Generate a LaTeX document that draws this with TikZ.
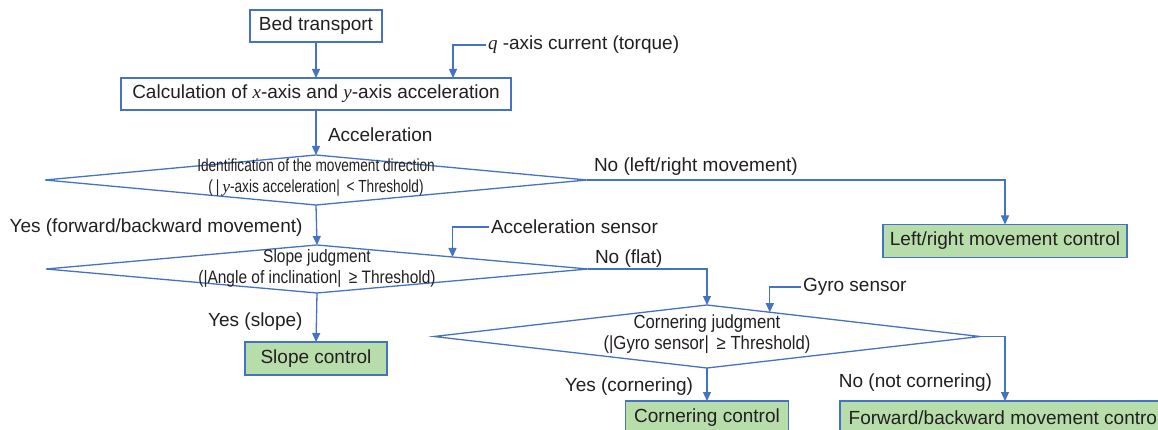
\documentclass[tikz,border=0pt]{standalone}
\usepackage{fontspec}
\setmainfont{Liberation Sans}
\newfontfamily\tnr{Liberation Serif}
\newfontfamily\dA[FakeStretch=0.78]{Liberation Sans}
\newfontfamily\dB[FakeStretch=0.86]{Liberation Sans}
\newfontfamily\dC[FakeStretch=0.88]{Liberation Sans}
\usetikzlibrary{shapes.geometric,arrows.meta,calc}
\definecolor{lnblue}{RGB}{68,114,196}
\definecolor{boxgreen}{RGB}{183,221,170}
\definecolor{txt}{RGB}{35,31,32}
\newcommand{\mi}[1]{{\tnr\itshape #1}}
\begin{document}
\begin{tikzpicture}[x=1pt,y=-1pt,
  every node/.style={text=txt, font=\fontsize{19}{21}\selectfont, outer sep=0pt},
  conn/.style={draw=lnblue, line width=1.3pt},
  arr/.style={conn, -{Triangle[length=9pt,width=8pt]}},
  wbox/.style={draw=lnblue, line width=1.3pt, fill=white, minimum height=32pt, inner sep=0pt},
  gbox/.style={draw=lnblue, line width=1.3pt, fill=boxgreen, minimum height=33pt, inner sep=0pt},
  dec/.style={diamond, draw=lnblue, line width=1.3pt, inner sep=0pt},
  dtext/.style={align=center, inner sep=0pt},
  lbl/.style={inner sep=2pt}]
\useasboundingbox (0,0) rectangle (1158,430);
\clip (0,0) rectangle (1158,430);

% boxes
\node[wbox, minimum width=132pt] (bed) at (316,26) {Bed transport};
\node[wbox, minimum width=390pt] (calc) at (316,94) {Calculation of \mi{x}-axis and \mi{y}-axis acceleration};

% diamonds
\node[dec, minimum width=542pt, minimum height=50pt] (d1) at (316,180) {};
\node[dtext, font=\dA\fontsize{17.5}{21}\selectfont] (d1t) at (316,177.5)
  {Identification of the movement direction\\(\,\textbar\,\mi{y}-axis acceleration\textbar\ \,< Threshold)};
\node[dec, minimum width=542pt, minimum height=48pt] (d2) at (317,269) {};
\node[dtext, font=\dB\fontsize{18}{21}\selectfont] (d2t) at (317,268.5)
  {Slope judgment\\(\textbar Angle of inclination\textbar\ \,≥ Threshold)};
\node[dec, minimum width=546pt, minimum height=63pt] (d3) at (707,336.5) {};
\node[dtext, font=\dC\fontsize{19}{21}\selectfont] (d3t) at (707,334.5)
  {Cornering judgment\\(\textbar Gyro sensor\textbar\ \,≥ Threshold)};

% result boxes
\node[gbox, minimum width=244pt] (lr) at (1005,241) {Left/right movement control};
\node[gbox, minimum width=142pt] (slope) at (316,358.5) {Slope control};
\node[gbox, minimum width=163pt] (corner) at (707,417.5) {Cornering control};
\node[gbox, minimum width=330pt] (fb) at (1005,417.5) {Forward/backward movement control};

% input labels
\node[lbl, anchor=west] (q) at (486,45) {\mi{q} -axis current (torque)};
\node[lbl, anchor=west] (accs) at (489,227) {Acceleration sensor};
\node[lbl, anchor=west] (gyro) at (801,287) {Gyro sensor};

% connectors
\draw[arr] (bed.south) -- (calc.north);
\draw[arr] (q.west) -| ([xshift=137pt]calc.north);
\draw[arr] (calc.south) -- node[lbl, anchor=west, xshift=10pt, yshift=-2pt] (accl) {Acceleration} (d1.north);
\draw[arr] (d1.south) -- node[lbl, anchor=east, xshift=-12pt, yshift=-3pt] (yes1) {Yes (forward/backward movement)} (d2.north);
\draw[arr] (d1.east) -| node[pos=0, lbl, anchor=south west, xshift=5pt, yshift=3pt] (no1) {No (left/right movement)} (lr.north);
\draw[arr] (accs.west) -| ($(d2.north)!0.5!(d2.east)$);
\draw[arr] (d2.east) -| node[pos=0, lbl, anchor=south west, xshift=5pt, yshift=0pt] (no2) {No (flat)} (d3.north);
\draw[arr] (d2.south) -- node[lbl, anchor=east, xshift=-12pt, yshift=-4pt] (yes2) {Yes (slope)} (slope.north);
\draw[arr] (gyro.west) -| ($(d3.north)!0.23!(d3.east)$);
\draw[arr] (d3.south) -- node[lbl, anchor=east, xshift=-12pt, yshift=-2pt] (yes3) {Yes (cornering)} (corner.north);
\draw[arr] (d3.east) -| node[pos=0.86, lbl, anchor=east, xshift=-11pt] (no3) {No (not cornering)} (fb.north);
\end{tikzpicture}
\end{document}
